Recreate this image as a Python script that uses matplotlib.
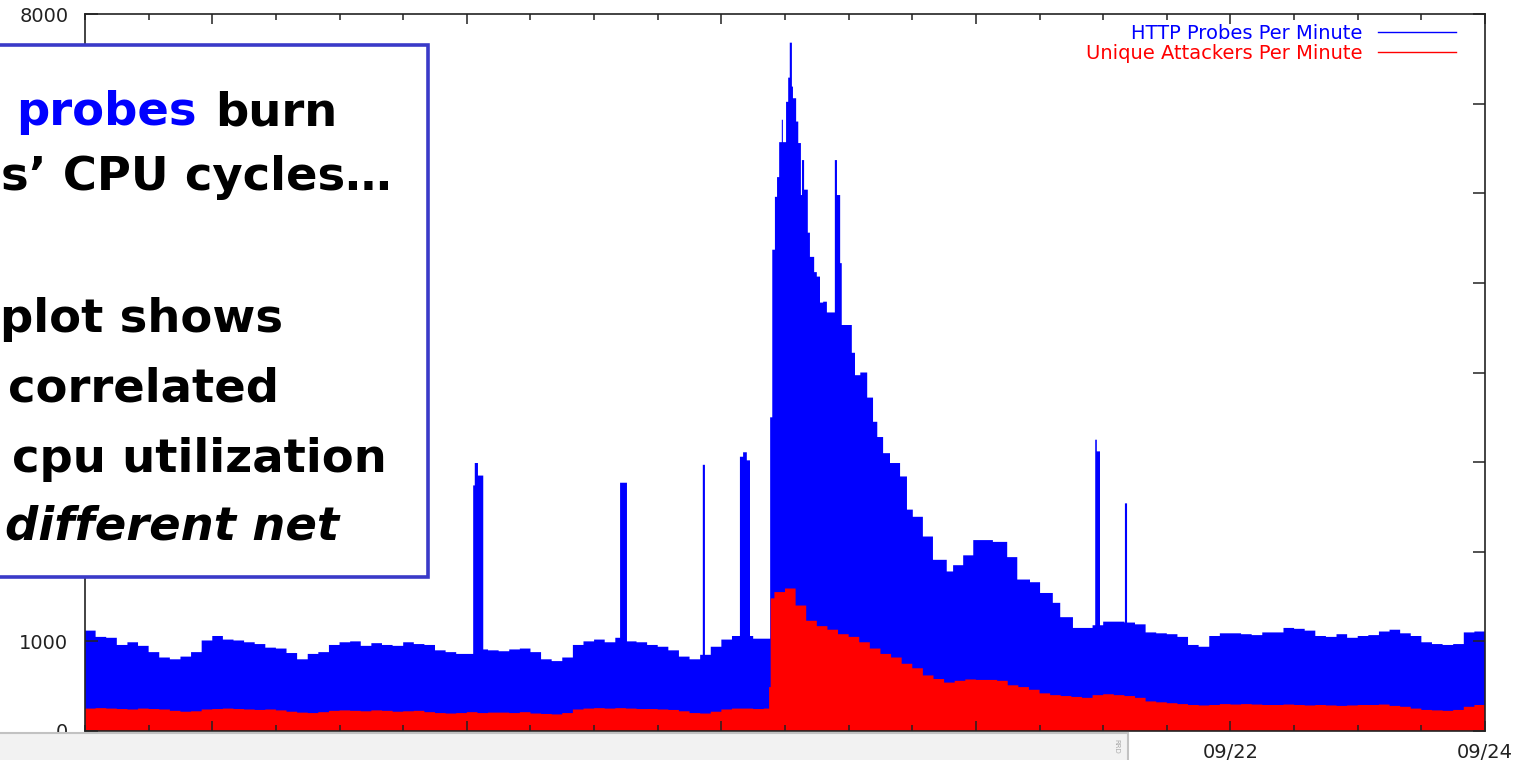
import numpy as np
import matplotlib
matplotlib.use('Agg')
from matplotlib import pyplot as plt
from matplotlib.lines import Line2D
from matplotlib.patches import Rectangle

# HTTP probes / unique attackers per minute, 2-hour bins starting 09/13 00:00 (11 days)
probes_2h = [1120, 1050, 1040, 960, 990, 950, 880, 820, 800, 830,
             880, 1010, 1060, 1020, 1010, 990, 970, 930, 920, 870,
             800, 860, 880, 960, 990, 1000, 950, 980, 960, 950,
             990, 970, 960, 900, 880, 860, 860, 910, 900, 890,
             910, 920, 880, 800, 780, 820, 960, 1000, 1020, 990,
             1040, 1000, 990, 960, 940, 900, 830, 800, 850, 940,
             1020, 1060, 1060, 1030, 1030, 6300, 7000, 6000, 5200, 4800,
             4700, 4500, 4250, 3900, 3500, 3150, 2990, 2700, 2400, 2200,
             1930, 1800, 1900, 1960, 2120, 2140, 2080, 1950, 1720, 1660,
             1560, 1460, 1300, 1200, 1150, 1180, 1220, 1220, 1210, 1190,
             1100, 1090, 1080, 1050, 960, 940, 1060, 1090, 1090, 1080,
             1070, 1100, 1100, 1150, 1140, 1120, 1060, 1050, 1080, 1040,
             1060, 1070, 1110, 1130, 1090, 1060, 990, 970, 960, 970,
             1100, 1110]

attackers_2h = [250, 255, 250, 245, 240, 250, 245, 240, 225, 215,
                220, 240, 245, 250, 245, 240, 235, 240, 230, 215,
                205, 200, 210, 225, 230, 225, 220, 230, 225, 215,
                220, 225, 210, 200, 195, 200, 210, 200, 205, 205,
                200, 210, 195, 190, 185, 200, 240, 250, 255, 250,
                255, 250, 245, 245, 240, 235, 220, 200, 195, 215,
                240, 250, 250, 245, 250, 1550, 1590, 1400, 1230, 1170,
                1130, 1080, 1050, 990, 920, 860, 820, 750, 700, 620,
                580, 540, 560, 575, 570, 570, 560, 510, 490, 460,
                420, 400, 390, 380, 370, 400, 410, 400, 390, 370,
                330, 320, 310, 300, 290, 285, 290, 300, 295, 300,
                295, 290, 290, 295, 290, 285, 290, 285, 280, 285,
                290, 290, 295, 280, 270, 250, 235, 230, 225, 235,
                270, 290]

# worm outbreak (09/18) and its decay at finer time resolution, hours
burst_edges = [129.2, 129.6, 130.1, 130.5, 130.9, 131.4, 131.6, 132.2, 132.6, 132.9,
               133.3, 133.5, 134.1, 134.5, 135.0, 135.2, 135.6, 136.3, 136.7, 137.5,
               138.0, 138.6, 139.2, 139.9, 141.4, 141.8, 142.4, 142.7, 144.6, 145.2,
               146.2, 147.5, 148.6, 149.4, 150.5, 151.8, 153.7, 155.0, 156.1, 158.0,
               159.9, 162.5, 163.7, 165.6, 167.5, 171.2, 173.9, 175.8, 178.2, 180.1,
               182.5, 183.9, 186.3, 190.0]
burst_probes = [3500, 5370, 5960, 6180, 6570, 6820, 6570, 7020, 7290, 7680,
                7190, 7060, 6800, 6560, 5980, 6370, 6040, 5560, 5290, 5120,
                5070, 4780, 4790, 4670, 6370, 5980, 5220, 4530, 4220, 3970,
                4000, 3720, 3450, 3280, 3100, 2990, 2840, 2470, 2390, 2170,
                1910, 1780, 1850, 1960, 2130, 2110, 1940, 1690, 1660, 1540,
                1430, 1270, 1150]
attackers_jump_edges = [129.0, 129.3, 130.0]
attackers_jump = [490, 1480]

# short probe spikes
spike_start = [73.2, 73.5, 74.1, 100.9, 116.5, 123.5, 124.1, 124.8, 190.5, 190.8, 196.1]
spike_end = [73.5, 74.1, 75.1, 102.2, 116.9, 124.1, 124.8, 125.4, 190.8, 191.4, 196.5]
spike_probes = [2740, 2990, 2850, 2770, 2970, 3060, 3110, 3020, 3250, 3120, 2540]

date_ticks = [24, 72, 120, 168, 216, 264]
date_labels = ['09/14', '09/16', '09/18', '09/20', '09/22', '09/24']
y_ticks = [0, 1000, 2000, 3000, 4000, 5000, 6000, 7000, 8000]
y_labels = ['0', '1000', '', '', '', '', '', '', '8000']   # the rest sit under the box
legend_labels = ['HTTP Probes Per Minute', 'Unique Attackers Per Minute']

# build 0.1 hour step series
probes = np.repeat(np.array(probes_2h, float), 20)
attackers = np.repeat(np.array(attackers_2h, float), 20)
idx = lambda h: int(round(h * 10))
for a, b, v in zip(burst_edges[:-1], burst_edges[1:], burst_probes):
    probes[idx(a):idx(b)] = v
for a, b, v in zip(spike_start, spike_end, spike_probes):
    probes[idx(a):idx(b)] = v
for a, b, v in zip(attackers_jump_edges[:-1], attackers_jump_edges[1:], attackers_jump):
    attackers[idx(a):idx(b)] = v
edges = np.arange(len(probes) + 1) / 10.0

W, H = 1522, 760
fig = plt.figure(figsize=(W / 100, H / 100), dpi=100)
ax = fig.add_axes([85 / W, 29 / H, 1400 / W, 717 / H])

ax.stairs(probes, edges, fill=True, color='#0000ff', lw=0)
ax.stairs(attackers, edges, fill=True, color='#ff0000', lw=0)

ax.set_xlim(0, 264)
ax.set_ylim(0, 8000)
ax.set_xticks(date_ticks, labels=date_labels)
ax.set_xticks(np.arange(0, 265, 12), minor=True)
ax.set_yticks(y_ticks, labels=y_labels)
ax.tick_params(axis='both', which='both', direction='in', top=True, right=True,
               labelsize=14, colors='#222222', width=1.1)
ax.tick_params(axis='x', which='major', length=7, pad=9)
ax.tick_params(axis='x', which='minor', length=4)
ax.tick_params(axis='y', which='major', length=9, pad=12)
for s in ax.spines.values():
    s.set_linewidth(1.2)
    s.set_color('#222222')

handles = [Line2D([], [], color='#0000ff', lw=1), Line2D([], [], color='#ff0000', lw=1)]
leg = ax.legend(handles, legend_labels, loc='upper right', bbox_to_anchor=(0.979, 0.9865),
                frameon=False, markerfirst=False, handlelength=4, handletextpad=0.8,
                labelspacing=0.05, borderpad=0, borderaxespad=0, fontsize=14)
for t, c in zip(leg.get_texts(), ['#0000ff', '#ff0000']):
    t.set_color(c)

# grey strip of the screenshot at the bottom left
fig.add_artist(Rectangle((-0.01, -0.01), 1128 / W + 0.01, 27 / H + 0.01, transform=fig.transFigure,
                         facecolor='#f2f2f2', edgecolor='#c2c2c2', lw=1.5, zorder=4, clip_on=False))
fig.text(1116 / W, 1 - 746 / H, 'RRD', rotation=270, fontsize=5, color='#aaaaaa',
         ha='center', va='center', zorder=4)

# annotation box (cut off at the left edge of the screenshot)
fig.add_artist(Rectangle((-12 / W, 1 - 577 / H), 440 / W, 532 / H, transform=fig.transFigure,
                         facecolor='white', edgecolor='#3a3ac8', lw=2.6, zorder=5, clip_on=False))
fs = 33.5
def line(x, y, s, ha='left', color='black', style='normal'):
    fig.text(x / W, 1 - y / H, s, ha=ha, va='baseline', fontsize=fs, fontweight='bold',
             color=color, style=style, zorder=6)

line(197, 125, 'probes', ha='right', color='#0000ff')
line(337, 125, 'burn', ha='right')
line(1, 190, 's\u2019 CPU cycles\u2026')
line(0, 332, 'plot shows')
line(8, 402, 'correlated')
line(12, 472, 'cpu utilization')
line(5, 540, 'different net', style='italic')

fig.savefig('out.png', dpi=100)
